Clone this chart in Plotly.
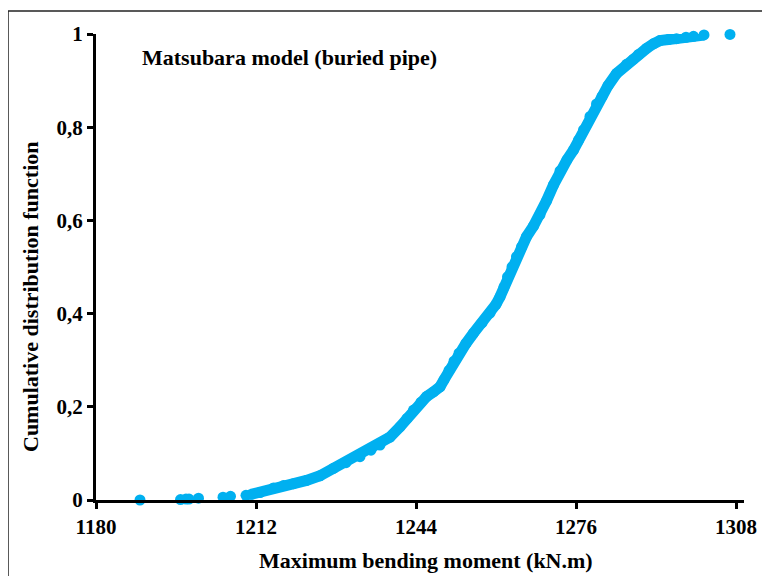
import plotly.graph_objects as go

# Isolated lower-tail points and last upper point
tail_x = [1188.8, 1196.9, 1198.0, 1198.6, 1200.5, 1205.4, 1206.9, 1210.0, 1306.8]
tail_y = [0.000, 0.001, 0.002, 0.002, 0.004, 0.006, 0.008, 0.010, 0.999]

main_x = [1211.0, 1212.8, 1215.5, 1217.5, 1219.5, 1222.1, 1224.8, 1227.5, 1230.0,
          1232.8, 1235.0, 1236.8, 1238.8, 1240.8, 1242.2, 1243.5, 1245.0, 1246.1,
          1247.5, 1248.8, 1249.6, 1250.6, 1251.6, 1252.6, 1254.0, 1255.5, 1257.2,
          1258.8, 1260.0, 1260.8, 1261.6, 1262.3, 1263.2, 1264.1, 1265.1, 1266.1,
          1267.5, 1268.8, 1270.1, 1271.5, 1272.8, 1274.2, 1275.5, 1276.5, 1277.5,
          1278.8, 1280.1, 1281.2, 1282.4, 1284.1, 1286.1, 1287.5, 1288.5, 1290.1,
          1291.5, 1292.8, 1294.5, 1296.1, 1298.0, 1299.5, 1301.6]
main_y = [0.012, 0.016, 0.026, 0.031, 0.035, 0.042, 0.052, 0.068, 0.080,
          0.093, 0.107, 0.118, 0.135, 0.157, 0.175, 0.193, 0.210, 0.222,
          0.232, 0.243, 0.258, 0.278, 0.298, 0.315, 0.336, 0.358, 0.380,
          0.401, 0.420, 0.436, 0.457, 0.479, 0.500, 0.522, 0.543, 0.565,
          0.588, 0.612, 0.642, 0.676, 0.706, 0.730, 0.751, 0.772, 0.794,
          0.823, 0.850, 0.866, 0.889, 0.915, 0.935, 0.946, 0.956, 0.969,
          0.979, 0.986, 0.988, 0.990, 0.993, 0.995, 0.998]

x_ticks = [1180, 1212, 1244, 1276, 1308]
y_ticks = [0, 0.2, 0.4, 0.6, 0.8, 1]
y_tick_labels = ["0", "0,2", "0,4", "0,6", "0,8", "1"]

COLOR = "#00B0F0"
FONT = "Liberation Serif"

fig = go.Figure()
fig.add_trace(go.Scatter(x=main_x, y=main_y, mode="lines+markers",
                         line=dict(color=COLOR, width=11),
                         marker=dict(color=COLOR, size=11),
                         cliponaxis=False, showlegend=False))
fig.add_trace(go.Scatter(x=tail_x, y=tail_y, mode="markers",
                         marker=dict(color=COLOR, size=11),
                         cliponaxis=False, showlegend=False))

OFF = 8  # page body margin
W, H = 770 - OFF, 576 - OFF
L, R, T, B = 96 - OFF, 744 - OFF, 34 - OFF, 500 - OFF
pw, ph = R - L, B - T

def px(xp):
    return (xp - OFF - L) / pw

def py(yp):
    return (B - (yp - OFF)) / ph

fig.update_layout(
    width=W, height=H,
    margin=dict(l=L, r=W - R, t=T, b=H - B),
    plot_bgcolor="white", paper_bgcolor="white",
    font=dict(family=FONT, color="black"),
    xaxis=dict(range=[1180, 1309.6], tickvals=x_ticks, ticktext=[str(v) for v in x_ticks],
               showgrid=False, zeroline=False, showline=True, linecolor="black", linewidth=3,
               ticks="outside", ticklen=6, tickwidth=2.5, tickcolor="black",
               tickfont=dict(family=FONT, size=21, color="black", weight="bold")),
    yaxis=dict(range=[0, 1], tickvals=y_ticks, ticktext=y_tick_labels,
               showgrid=False, zeroline=False, showline=True, linecolor="black", linewidth=3,
               ticks="outside", ticklen=6, tickwidth=2.5, tickcolor="black",
               tickfont=dict(family=FONT, size=21, color="black", weight="bold")),
    annotations=[
        dict(text="<b>Matsubara model (buried pipe)</b>", xref="paper", yref="paper",
             x=px(140), y=py(57), xanchor="left", yanchor="middle", showarrow=False,
             font=dict(family=FONT, size=22, color="black")),
        dict(text="<b>Maximum bending moment (kN.m)</b>", xref="paper", yref="paper",
             x=px(426), y=py(560), xanchor="center", yanchor="middle", showarrow=False,
             font=dict(family=FONT, size=22, color="black")),
        dict(text="<b>Cumulative distribution function</b>", xref="paper", yref="paper",
             x=px(30), y=py(297), xanchor="center", yanchor="middle", showarrow=False,
             textangle=-90, font=dict(family=FONT, size=22, color="black")),
    ],
    shapes=[
        dict(type="line", xref="paper", yref="paper", x0=px(8), x1=px(772), y0=py(11), y1=py(11),
             line=dict(color="#222222", width=1.5)),
        dict(type="line", xref="paper", yref="paper", x0=px(8), x1=px(8), y0=py(11), y1=py(578),
             line=dict(color="#222222", width=1.5)),
    ],
)

fig.write_html("out.html")
